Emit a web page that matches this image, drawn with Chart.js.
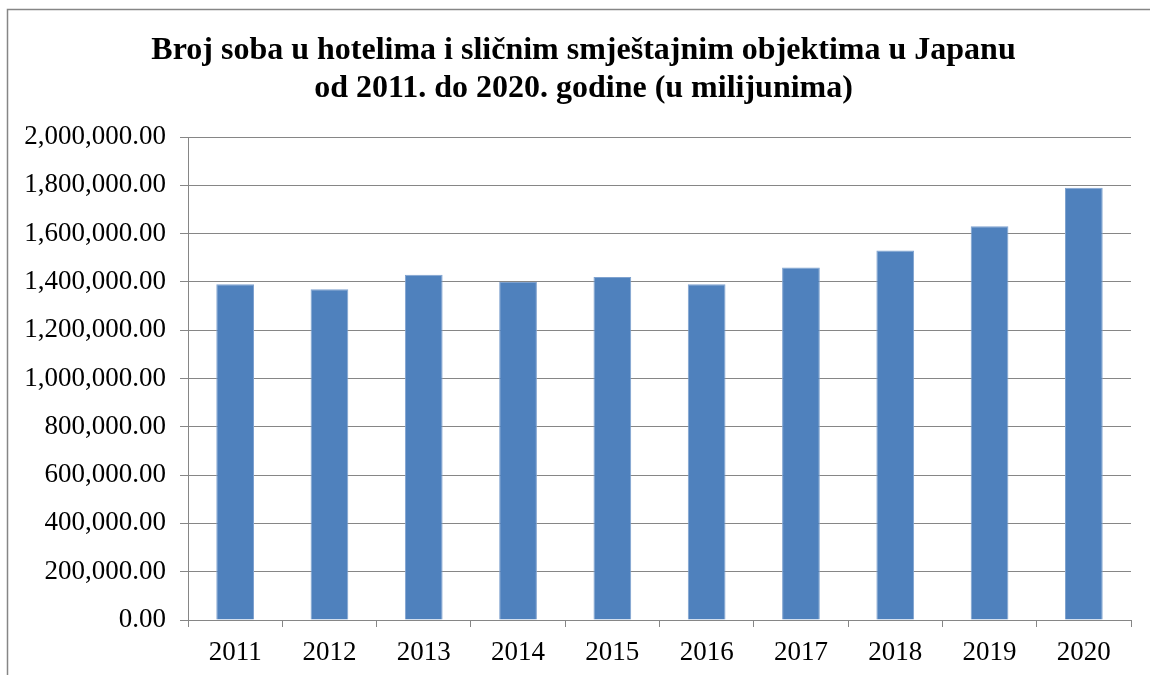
<!DOCTYPE html>
<html>
<head>
<meta charset="utf-8">
<script src="https://cdn.jsdelivr.net/npm/chart.js@4"></script>
<style>
  html, body { margin: 0; padding: 0; background: #ffffff; }
  #wrap { width: 1150px; height: 675px; position: relative; }
</style>
</head>
<body>
<div id="wrap"><canvas id="c" width="1150" height="675"></canvas></div>
<script>
const titleLines = ["Broj soba u hotelima i sličnim smještajnim objektima u Japanu", "od 2011. do 2020. godine (u milijunima)"];
const years = ["2011", "2012", "2013", "2014", "2015", "2016", "2017", "2018", "2019", "2020"];
const rooms = [1390000, 1370000, 1430000, 1400000, 1420000, 1390000, 1460000, 1530000, 1630000, 1790000];
const yMin = 0;
const yMax = 2000000;
const yStep = 200000;

const fontFamily = '"Liberation Serif", "Times New Roman", serif';

const decor = {
  id: 'decor',
  afterDraw(chart) {
    const ctx = chart.ctx;
    ctx.save();
    ctx.strokeStyle = '#868686';
    ctx.lineWidth = 1.5;
    ctx.strokeRect(7.5, 9.5, 1300, 900);
    ctx.fillStyle = '#000000';
    ctx.font = 'bold 32px ' + fontFamily;
    ctx.textAlign = 'center';
    ctx.textBaseline = 'alphabetic';
    ctx.fillText(titleLines[0], 583.5, 59);
    ctx.fillText(titleLines[1], 583.5, 97);
    ctx.restore();
  }
};

new Chart(document.getElementById('c'), {
  type: 'bar',
  data: {
    labels: years,
    datasets: [{
      data: rooms,
      backgroundColor: '#4F81BD',
      borderColor: '#7FA2CF',
      borderWidth: 1,
      barPercentage: 0.4,
      categoryPercentage: 1.0
    }]
  },
  options: {
    responsive: false,
    animation: false,
    devicePixelRatio: 1,
    layout: { padding: { top: 137, right: 19, left: 0, bottom: 0 } },
    plugins: {
      legend: { display: false },
      tooltip: { enabled: false },
      title: { display: false }
    },
    scales: {
      x: {
        grid: { display: true, drawOnChartArea: false, drawTicks: true, tickLength: 7, color: '#868686', offset: true },
        border: { display: true, color: '#868686', width: 1 },
        ticks: { color: '#000000', font: { family: fontFamily, size: 27 }, padding: 10, maxRotation: 0 },
        afterFit(scale) { scale.height = 55; }
      },
      y: {
        min: yMin,
        max: yMax,
        grid: { color: '#868686', lineWidth: 1, tickLength: 8, drawTicks: true },
        border: { display: true, color: '#868686', width: 1 },
        ticks: {
          stepSize: yStep,
          color: '#000000',
          padding: 14,
          font: { family: fontFamily, size: 27 },
          callback: (v) => Number(v).toLocaleString('en-US', { minimumFractionDigits: 2, maximumFractionDigits: 2 })
        },
        afterFit(scale) { scale.width = 188; }
      }
    }
  },
  plugins: [decor]
});
</script>
</body>
</html>
